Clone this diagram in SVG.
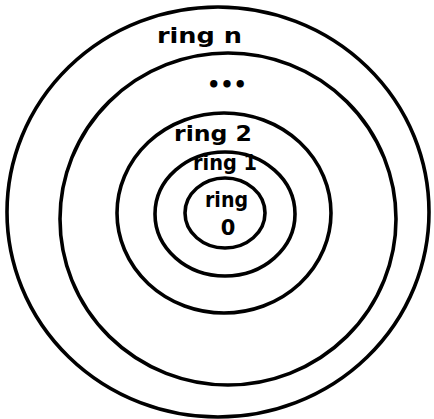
<svg xmlns="http://www.w3.org/2000/svg" width="434" height="419" viewBox="0 0 434 419">
<style>
.ring{fill:none;stroke:#000;stroke-width:3.6}
.lbl{font-family:"DejaVu Sans","Liberation Sans",sans-serif;font-size:21px;fill:#000;font-weight:bold}
</style>
<rect width="434" height="419" fill="#fff"/>
<g id="ring-n">
<ellipse class="ring" cx="218" cy="212" rx="211" ry="205"/>
<text class="lbl" x="157" y="43" textLength="85" lengthAdjust="spacingAndGlyphs">ring n</text>
</g>
<g id="ring-dots">
<ellipse class="ring" cx="228" cy="219" rx="168" ry="166"/>
<text class="lbl" x="207" y="92" font-size="16" textLength="40" lengthAdjust="spacing">•••</text>
</g>
<g id="ring-2">
<ellipse class="ring" cx="224" cy="213" rx="107" ry="100"/>
<text class="lbl" x="174" y="141" textLength="78" lengthAdjust="spacingAndGlyphs">ring 2</text>
</g>
<g id="ring-1">
<ellipse class="ring" cx="225" cy="214" rx="70" ry="62"/>
<text class="lbl" x="193" y="170" textLength="64" lengthAdjust="spacingAndGlyphs">ring 1</text>
</g>
<g id="ring-0">
<ellipse class="ring" cx="225" cy="213" rx="40" ry="35"/>
<text class="lbl" x="205" y="207" textLength="43" lengthAdjust="spacingAndGlyphs">ring</text>
<text class="lbl" x="228" y="235" text-anchor="middle">0</text>
</g>
</svg>
